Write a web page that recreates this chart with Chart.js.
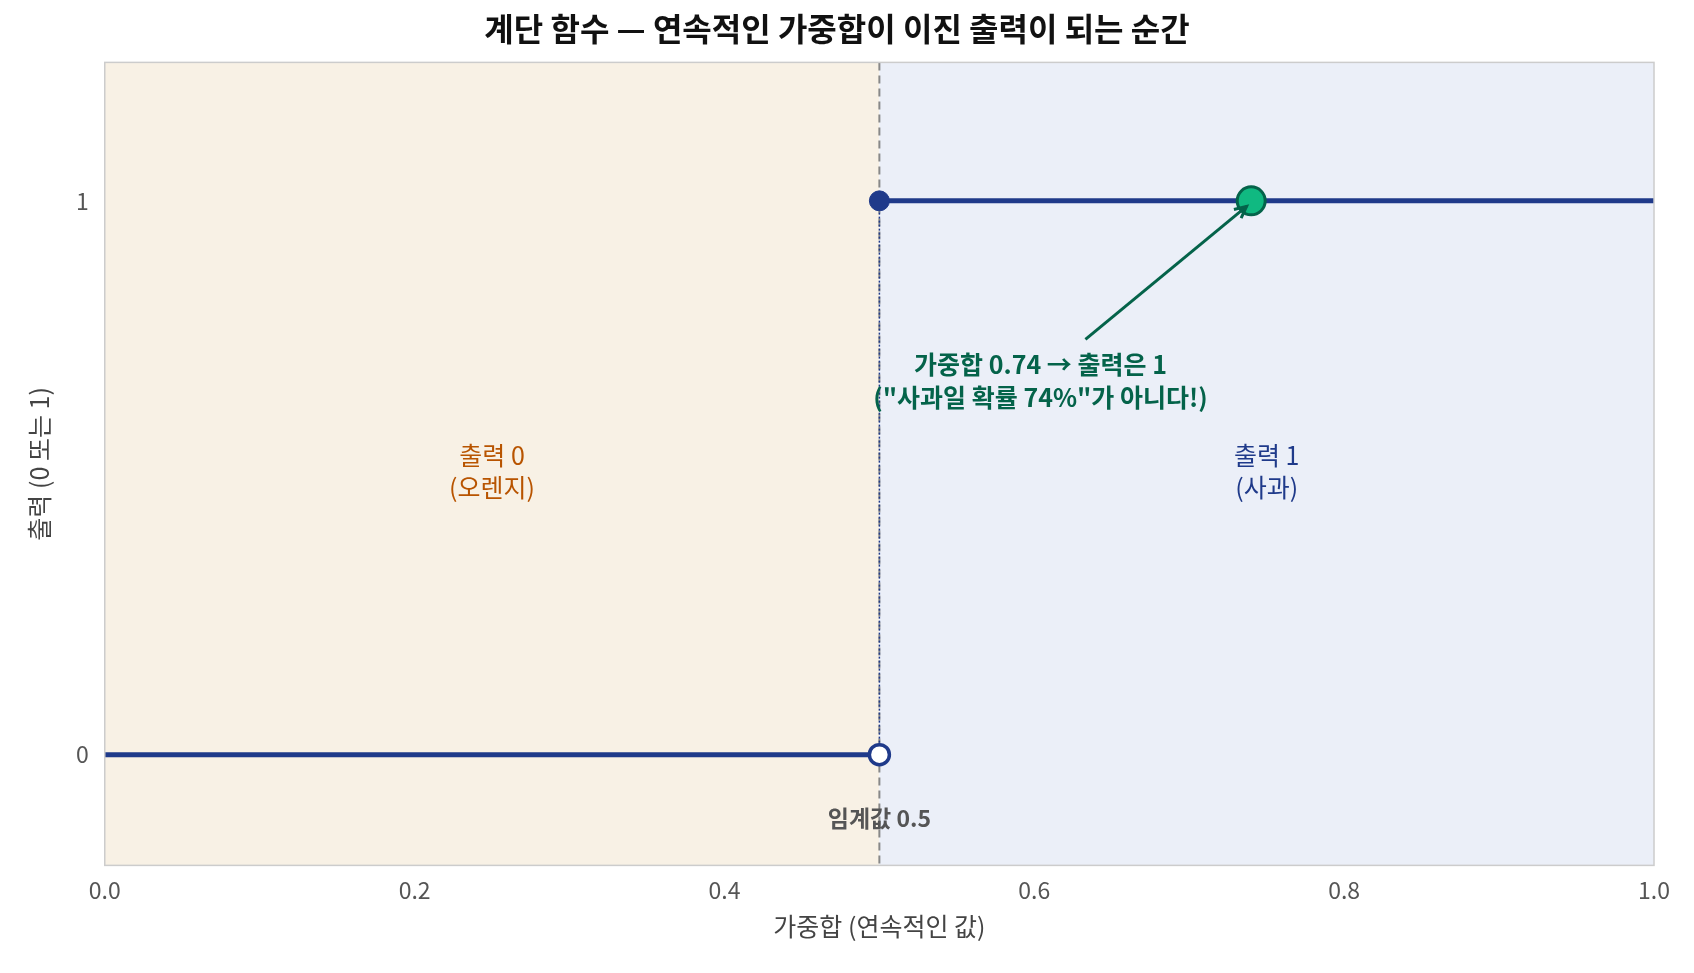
<!DOCTYPE html>
<html><head><meta charset="utf-8">
<script src="https://cdn.jsdelivr.net/npm/chart.js@4"></script>
<style>body{margin:0;background:#fff}canvas{display:block}</style>
</head><body>
<canvas id="c" width="1694" height="973"></canvas>
<script>
const threshold = 0.5;
const lowSegment = [{x: 0, y: 0}, {x: 0.5, y: 0}];
const highSegment = [{x: 0.5, y: 1}, {x: 1, y: 1}];
const example = [{x: 0.74, y: 1}];
const xTicks = [0, 0.2, 0.4, 0.6, 0.8, 1.0];
const yTicks = [0, 1];

const F = '"Noto Sans CJK KR", "Noto Sans", sans-serif';
const BLUE = '#1f3a8a';

const decor = {
  id: 'decor',
  beforeDatasetsDraw(chart) {
    const {ctx, chartArea: a, scales: {x, y}} = chart;
    const t = x.getPixelForValue(threshold);
    ctx.save();
    ctx.fillStyle = '#f8f1e5';
    ctx.fillRect(a.left, a.top, t - a.left, a.bottom - a.top);
    ctx.fillStyle = '#ebeff8';
    ctx.fillRect(t, a.top, a.right - t, a.bottom - a.top);
    ctx.strokeStyle = '#888';
    ctx.lineWidth = 2;
    ctx.setLineDash([8, 5]);
    ctx.beginPath(); ctx.moveTo(t, a.top); ctx.lineTo(t, a.bottom); ctx.stroke();
    ctx.strokeStyle = BLUE;
    ctx.lineWidth = 1.5;
    ctx.setLineDash([2, 2]);
    ctx.beginPath(); ctx.moveTo(t, y.getPixelForValue(0)); ctx.lineTo(t, y.getPixelForValue(1)); ctx.stroke();
    ctx.restore();
  },
  afterDatasetsDraw(chart) {
    const {ctx, chartArea: a, scales: {x, y}} = chart;
    ctx.save();
    ctx.strokeStyle = '#ccc'; ctx.lineWidth = 1.5;
    ctx.strokeRect(a.left, a.top, a.right - a.left, a.bottom - a.top);
    ctx.textAlign = 'center'; ctx.textBaseline = 'middle';
    ctx.font = '25px ' + F;
    ctx.fillStyle = '#b85400';
    ctx.fillText('출력 0', x.getPixelForValue(0.25), y.getPixelForValue(0.54));
    ctx.fillText('(오렌지)', x.getPixelForValue(0.25), y.getPixelForValue(0.483));
    ctx.fillStyle = BLUE;
    ctx.fillText('출력 1', x.getPixelForValue(0.75), y.getPixelForValue(0.54));
    ctx.fillText('(사과)', x.getPixelForValue(0.75), y.getPixelForValue(0.483));
    ctx.font = 'bold 23px ' + F;
    ctx.fillStyle = '#555';
    ctx.fillText('임계값 0.5', x.getPixelForValue(0.5), y.getPixelForValue(-0.115));
    ctx.fillStyle = '#04634a';
    ctx.font = 'bold 25px ' + F;
    ctx.fillText('가중합 0.74 → 출력은 1', x.getPixelForValue(0.604), y.getPixelForValue(0.705));
    ctx.fillText('("사과일 확률 74%"가 아니다!)', x.getPixelForValue(0.604), y.getPixelForValue(0.645));
    // arrow
    const x0 = x.getPixelForValue(0.633), y0 = y.getPixelForValue(0.75);
    const x1 = x.getPixelForValue(0.737), y1 = y.getPixelForValue(0.99);
    ctx.strokeStyle = '#04634a'; ctx.lineWidth = 3;
    ctx.beginPath(); ctx.moveTo(x0, y0); ctx.lineTo(x1, y1); ctx.stroke();
    const ang = Math.atan2(y1 - y0, x1 - x0);
    ctx.beginPath();
    ctx.moveTo(x1 - 13 * Math.cos(ang - 0.45), y1 - 13 * Math.sin(ang - 0.45));
    ctx.lineTo(x1, y1);
    ctx.lineTo(x1 - 13 * Math.cos(ang + 0.45), y1 - 13 * Math.sin(ang + 0.45));
    ctx.stroke();
    ctx.restore();
  }
};

new Chart(document.getElementById('c'), {
  type: 'scatter',
  data: {
    datasets: [
      {data: lowSegment, showLine: true, borderColor: BLUE, borderWidth: 5, pointRadius: 0, order: 3},
      {data: highSegment, showLine: true, borderColor: BLUE, borderWidth: 5, pointRadius: 0, order: 3},
      {data: [lowSegment[1]], pointRadius: 10, pointBackgroundColor: '#fff', pointBorderColor: BLUE, pointBorderWidth: 3.5, order: 1},
      {data: [highSegment[0]], pointRadius: 10, pointBackgroundColor: BLUE, pointBorderColor: BLUE, pointBorderWidth: 1, order: 1},
      {data: example, pointRadius: 14, pointBackgroundColor: '#10b981', pointBorderColor: '#04634a', pointBorderWidth: 3, order: 0}
    ]
  },
  options: {
    responsive: false, animation: false,
    layout: {padding: {left: 20, right: 40, top: 0, bottom: 28}},
    plugins: {
      legend: {display: false}, tooltip: {enabled: false},
      title: {display: true, text: '계단 함수 — 연속적인 가중합이 이진 출력이 되는 순간',
        font: {family: F, size: 32, weight: 'bold'}, color: '#111', padding: {top: 10, bottom: 14}}
    },
    scales: {
      x: {type: 'linear', min: 0, max: 1,
        afterBuildTicks: s => { s.ticks = xTicks.map(v => ({value: v})); },
        grid: {display: false, drawTicks: true, tickLength: 8, tickColor: '#999'},
        border: {display: false},
        ticks: {font: {family: F, size: 23}, color: '#555', callback: v => v.toFixed(1)},
        title: {display: true, text: '가중합 (연속적인 값)', font: {family: F, size: 25}, color: '#444'}},
      y: {type: 'linear', min: -0.2, max: 1.25,
        afterBuildTicks: s => { s.ticks = yTicks.map(v => ({value: v})); },
        grid: {display: false, drawTicks: true, tickLength: 8, tickColor: '#999'},
        border: {display: false},
        ticks: {font: {family: F, size: 23}, color: '#555', padding: 8},
        title: {display: true, text: '출력 (0 또는 1)', font: {family: F, size: 25}, color: '#444', padding: {bottom: 14}}}
    }
  },
  plugins: [decor]
});
</script>
</body></html>
